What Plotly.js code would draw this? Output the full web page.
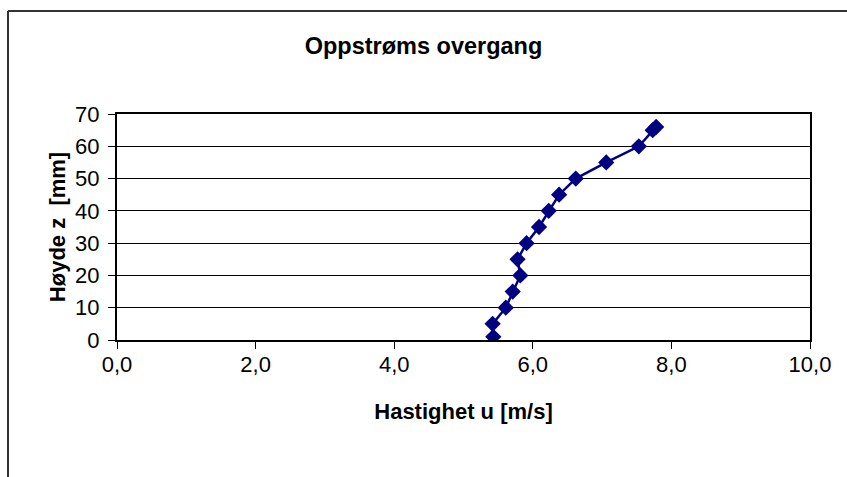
<!DOCTYPE html>
<html>
<head>
<meta charset="utf-8">
<script src="https://cdn.plot.ly/plotly-3.0.1.min.js"></script>
<style>
html,body{margin:0;padding:0;background:#fff;}
#chart{width:847px;height:477px;}
</style>
</head>
<body>
<div id="chart"></div>
<script>
// Data: velocity u [m/s] vs height z [mm]
const hastighet = [5.43, 5.42, 5.61, 5.71, 5.82, 5.78, 5.91, 6.09, 6.23, 6.38, 6.62, 7.06, 7.53, 7.73, 7.78];
const hoyde     = [1, 5, 10, 15, 20, 25, 30, 35, 40, 45, 50, 55, 60, 65, 66];
const xTicks = [0, 2, 4, 6, 8, 10];
const yTicks = [0, 10, 20, 30, 40, 50, 60, 70];

const font = "Liberation Sans, Arial, sans-serif";
const L = 117, R = 810, T = 114, B = 340, W = 847, H = 477;
const px2x = p => (p - L) / (R - L);
const py2y = p => (B - p) / (B - T);

const trace = {
  x: hastighet, y: hoyde, type: 'scatter', mode: 'lines+markers',
  line: {color: '#000080', width: 2.5},
  marker: {symbol: 'diamond', size: 12.5, color: '#000080'},
  hoverinfo: 'x+y'
};

const layout = {
  width: W, height: H,
  margin: {l: L, r: W - R, t: T, b: H - B, pad: 0},
  paper_bgcolor: '#fff', plot_bgcolor: '#fff',
  separators: ', ',
  showlegend: false,
  font: {family: font, color: '#000', size: 22},
  title: {text: '<b>Oppstrøms overgang</b>', font: {family: font, size: 23.5, color: '#000'},
          x: 0.5, xref: 'container', xanchor: 'center', y: 1 - 46/H, yref: 'container', yanchor: 'middle'},
  xaxis: {
    range: [0, 10], tickvals: xTicks, tickformat: '.1f',
    showgrid: false, zeroline: false,
    showline: true, mirror: true, linecolor: '#000', linewidth: 2,
    ticks: 'outside', ticklen: 7, tickcolor: '#000', tickwidth: 1,
    ticklabelstandoff: -3,
    tickfont: {family: font, size: 22, color: '#000'},
    title: {text: '<b>Hastighet u [m/s]</b>', font: {family: font, size: 22, color: '#000'}, standoff: 27}
  },
  yaxis: {
    range: [0, 70], tickvals: yTicks,
    showgrid: true, gridcolor: '#000', gridwidth: 1, zeroline: false,
    showline: true, mirror: true, linecolor: '#000', linewidth: 2,
    ticks: 'outside', ticklen: 7, tickcolor: '#000', tickwidth: 1,
    ticklabelstandoff: 4,
    tickfont: {family: font, size: 22, color: '#000'},
    title: {text: '<b>Høyde z\u00a0 [mm]</b>', font: {family: font, size: 22, color: '#000'}, standoff: 3}
  },
  shapes: [
    {type: 'line', xref: 'paper', yref: 'paper', x0: px2x(8), x1: px2x(870), y0: py2y(11), y1: py2y(11),
     line: {color: '#333', width: 2}},
    {type: 'line', xref: 'paper', yref: 'paper', x0: px2x(8), x1: px2x(8), y0: py2y(11), y1: py2y(500),
     line: {color: '#333', width: 2}}
  ]
};

Plotly.newPlot('chart', [trace], layout, {displayModeBar: false, staticPlot: true});
</script>
</body>
</html>
